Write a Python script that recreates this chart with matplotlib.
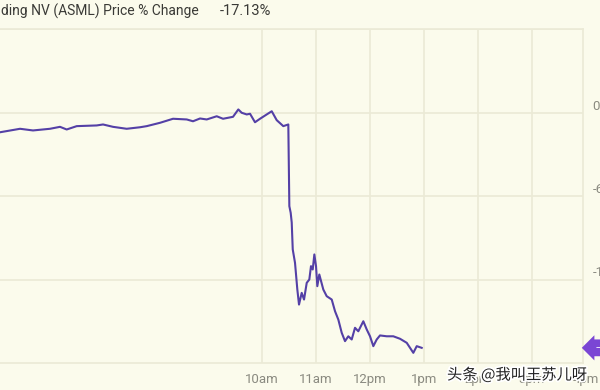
import matplotlib.pyplot as plt
import matplotlib.patheffects as pe
from matplotlib.transforms import blended_transform_factory, ScaledTranslation

# intraday time (hours) and price % change
hours = [5.148, 5.519, 5.759, 6.074, 6.259, 6.383, 6.569, 6.939, 7.056, 7.241,
         7.494, 7.741, 7.865, 8.111, 8.352, 8.606, 8.722, 8.852, 8.976, 9.161,
         9.278, 9.463, 9.561, 9.624, 9.717, 9.778, 9.870, 9.963, 10.087, 10.180,
         10.272, 10.394, 10.487, 10.506, 10.531, 10.550, 10.569, 10.611, 10.654, 10.685,
         10.735, 10.778, 10.828, 10.876, 10.907, 10.939, 10.969, 11.000, 11.024, 11.061,
         11.135, 11.198, 11.291, 11.352, 11.413, 11.476, 11.537, 11.598, 11.661, 11.722,
         11.783, 11.876, 11.939, 12.000, 12.061, 12.124, 12.185, 12.309, 12.431, 12.556,
         12.680, 12.802, 12.865, 12.957]
pct = [-1.42, -1.17, -1.29, -1.17, -1.03, -1.22, -0.98, -0.93, -0.86, -1.03,
       -1.17, -1.06, -0.98, -0.74, -0.45, -0.50, -0.63, -0.43, -0.50, -0.27,
       -0.45, -0.31, 0.22, -0.02, -0.14, -0.09, -0.70, -0.45, -0.14, 0.09,
       -0.55, -0.98, -0.86, -6.73, -7.21, -7.90, -9.84, -10.80, -12.72, -13.80,
       -12.96, -13.44, -12.24, -12.00, -11.04, -11.28, -10.20, -11.04, -12.48, -11.64,
       -12.72, -13.20, -13.44, -14.28, -14.88, -15.83, -16.43, -16.08, -16.31, -15.47,
       -15.72, -15.00, -15.59, -16.08, -16.79, -16.31, -16.02, -16.08, -16.08, -16.26,
       -16.55, -17.27, -16.79, -16.91]

hour_ticks = [10, 11, 12, 13, 14, 15, 16]
hour_labels = ['10am', '11am', '12pm', '1pm', '2pm', '3pm', '4pm']
pct_ticks = [0, -6, -12]
pct_labels = ['0.00%', '-6.00%', '-12.00%']

title = 'ASML Holding NV (ASML) Price % Change'
last_change = '-17.13%'

bg = '#fbfbec'
grid_c = '#ebead6'
line_c = '#5440a6'
label_c = '#8a8a80'

plt.rcParams['font.family'] = ['Roboto', 'DejaVu Sans']

fig = plt.figure(figsize=(6, 3.9), dpi=100, facecolor=bg)
ax = fig.add_axes([0, 1 - 363 / 390, 583 / 600, (363 - 29) / 390])
ax.set_facecolor(bg)

ax.plot(hours, pct, color=line_c, lw=1.5, solid_joinstyle='round')

ax.set_xlim(5.148, 15.944)
ax.set_ylim(-18, 6)

ax.set_xticks(hour_ticks[:-1])
ax.set_xticklabels(hour_labels[:-1])

# 4pm sits just past the right edge, so it is drawn by hand
shift = ScaledTranslation(0, -7 / 72, fig.dpi_scale_trans)
ax.text(hour_ticks[-1], -18, hour_labels[-1], ha='center', va='top', color=label_c,
        fontsize=9.5, clip_on=False, transform=ax.transData + shift)

ax.yaxis.tick_right()
ax.set_yticks(pct_ticks + [6])
ax.set_yticklabels(pct_labels + [''])
for lab in ax.get_yticklabels():
    lab.set_va('bottom')

ax.tick_params(axis='x', length=0, pad=7, labelsize=9.5, labelcolor=label_c)
ax.tick_params(axis='y', length=0, pad=7, labelsize=9.5, labelcolor=label_c)
ax.grid(True, color=grid_c, lw=1.2)
ax.set_axisbelow(True)
ax.spines['left'].set_visible(False)
for s in ['top', 'right', 'bottom']:
    ax.spines[s].set_color(grid_c)
    ax.spines[s].set_linewidth(1.2)

# current value tag on the right edge
tr = blended_transform_factory(ax.transAxes, ax.transData)
ax.text(1.014, pct[-1], '  \u2014   ', transform=tr, color='white', fontsize=7,
        va='center', ha='left', clip_on=False,
        bbox=dict(boxstyle='larrow,pad=0.35', fc='#7a46d4', ec='none'))

# header
fig.text(199 / 600, 1 - 11 / 390, title, ha='right', va='center', fontsize=10,
         color='#3a3a36')
fig.text(220 / 600, 1 - 11 / 390, last_change, ha='left', va='center', fontsize=10.5,
         color='#3a3a36')

# watermark
fig.text(447 / 600, 1 - 375 / 390, '头条 @我叫王苏儿呀', ha='left', va='center', fontsize=11,
         color='#222222', family=['Noto Sans CJK SC', 'DejaVu Sans'],
         path_effects=[pe.withStroke(linewidth=2.5, foreground='white')])

fig.savefig('out.png', dpi=100, facecolor=bg)
